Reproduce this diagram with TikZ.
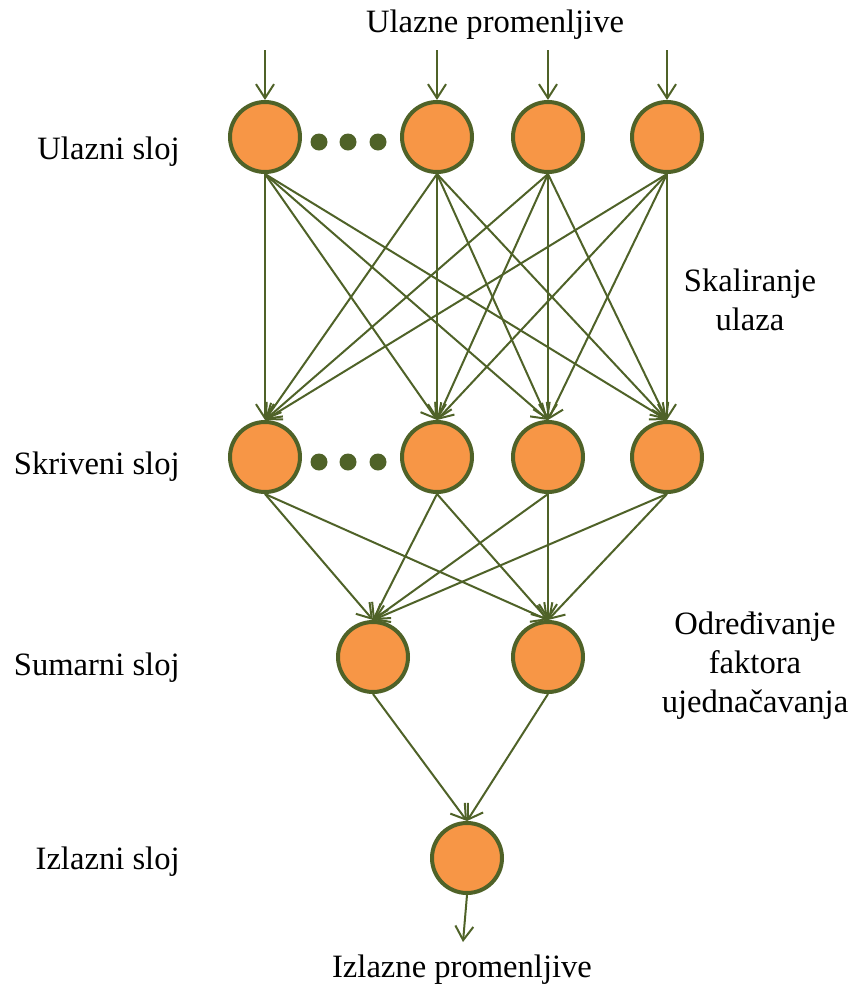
\documentclass[tikz,border=0pt]{standalone}
\usepackage{fontspec}
\setmainfont{Liberation Serif}
\usetikzlibrary{arrows.meta}
\definecolor{nodefill}{HTML}{F79646}
\definecolor{olivegreen}{HTML}{4F6228}
\begin{document}
\begin{tikzpicture}[x=0.5pt,y=-0.5pt,
  neuron/.style={circle, draw=olivegreen, fill=nodefill, line width=2pt,
                 minimum size=35pt, inner sep=0pt},
  dotmark/.style={circle, fill=olivegreen, minimum size=8.5pt, inner sep=0pt},
  link/.style={draw=olivegreen, line width=1pt,
               -{Straight Barb[length=7pt,width=9pt,line width=1pt]}},
  lbl/.style={font=\fontsize{16.3}{19.5}\selectfont, inner sep=0pt, align=center}]
\useasboundingbox (0,0) rectangle (849,986);

% input layer
\node[neuron] (i1) at (265,137) {};
\node[neuron] (i2) at (437,137) {};
\node[neuron] (i3) at (548,137) {};
\node[neuron] (i4) at (667,137) {};
\node[dotmark] (id1) at (319,142) {};
\node[dotmark] (id2) at (348,142) {};
\node[dotmark] (id3) at (378,142) {};

% hidden layer
\node[neuron] (h1) at (265,457) {};
\node[neuron] (h2) at (437,457) {};
\node[neuron] (h3) at (548,457) {};
\node[neuron] (h4) at (667,457) {};
\node[dotmark] (hd1) at (319,462) {};
\node[dotmark] (hd2) at (348,462) {};
\node[dotmark] (hd3) at (378,462) {};

% summation layer
\node[neuron] (s1) at (373,657) {};
\node[neuron] (s2) at (548,657) {};

% output layer
\node[neuron] (o1) at (467,858) {};

% input arrows
\coordinate (in1) at (265,50);
\coordinate (in2) at (437,50);
\coordinate (in3) at (548,50);
\coordinate (in4) at (667,50);
\foreach \k in {1,2,3,4} \draw[link] (in\k) -- (i\k.north);

% input -> hidden, fully connected
\foreach \a in {1,2,3,4}
  \foreach \b in {1,2,3,4}
    \draw[link] (i\a.south) -- (h\b.north);

% hidden -> summation
\foreach \a in {1,2,3,4}
  \foreach \b in {1,2}
    \draw[link] (h\a.south) -- (s\b.north);

% summation -> output
\draw[link] (s1.south) -- (o1.north);
\draw[link] (s2.south) -- (o1.north);

% output arrow
\coordinate (out) at (463,942);
\draw[link] (o1.south) -- (out);

% labels
\node[lbl] (tin) at (495,25) {Ulazne promenljive};
\node[lbl] (tout) at (462,970) {Izlazne promenljive};
\node[lbl, anchor=east] (l1) at (180,152) {Ulazni sloj};
\node[lbl, anchor=east] (l2) at (180,467) {Skriveni sloj};
\node[lbl, anchor=east] (l3) at (180,668) {Sumarni sloj};
\node[lbl, anchor=east] (l4) at (180,862) {Izlazni sloj};
\node[lbl] (r1) at (750,300) {Skaliranje\\ulaza};
\node[lbl] (r2) at (755,666) {Određivanje\\faktora\\ujednačavanja};
\end{tikzpicture}
\end{document}
